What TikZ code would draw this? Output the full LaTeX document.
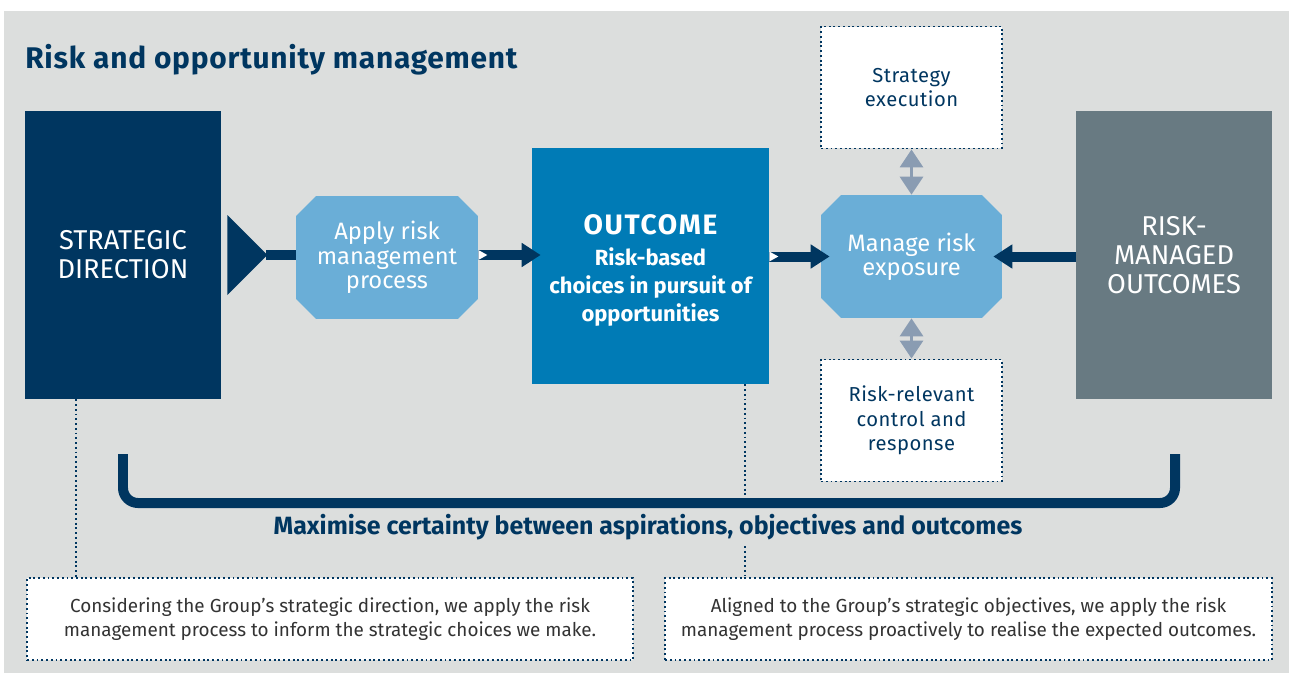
\documentclass[tikz,border=0pt]{standalone}
\usepackage{fontspec}
\setmainfont{Fira Sans}
\newfontfamily\trackmid[LetterSpace=6]{Fira Sans}
\newfontfamily\tracklow[LetterSpace=2.5]{Fira Sans}
\usetikzlibrary{arrows.meta,shapes.misc}
\definecolor{navy}{HTML}{003660}
\definecolor{outblue}{HTML}{007BB6}
\definecolor{stepblue}{HTML}{6AAED7}
\definecolor{slate}{HTML}{687A82}
\definecolor{panel}{HTML}{DCDEDD}
\definecolor{linkgray}{HTML}{8A9CB2}
\definecolor{notetext}{HTML}{333333}
\tikzset{
  bigbox/.style={text=white, align=center, inner sep=0pt, minimum width=3.92cm, minimum height=5.76cm,
    font=\fontsize{15.5}{16.6}\selectfont},
  stepbox/.style={chamfered rectangle, chamfered rectangle xsep=0.2cm, chamfered rectangle ysep=0.2cm,
    fill=stepblue, text=white, align=center, inner sep=0pt, minimum width=3.64cm, minimum height=2.46cm,
    font=\fontsize{13.5}{13.9}\selectfont},
  dotbox/.style={fill=white, draw=navy, dotline, text=navy, align=center, inner sep=0pt,
    minimum width=3.62cm, minimum height=2.44cm, font=\tracklow\fontsize{11.5}{13.8}\selectfont},
  notebox/.style={fill=white, draw=navy, dotline, text=notetext, align=center, inner sep=0pt,
    minimum width=12.12cm, minimum height=1.64cm, font=\fontsize{10.75}{13.6}\selectfont},
  dotline/.style={line width=1.1pt, dash pattern=on 1.1pt off 1.6pt},
  flow/.style={navy, line width=0.2cm, -{Triangle[length=0.38cm,width=0.46cm]}},
  twoway/.style={linkgray, line width=0.06cm,
    {Triangle[length=0.36cm,width=0.46cm]}-{Triangle[length=0.36cm,width=0.46cm]}},
}
\begin{document}
\begin{tikzpicture}[x=0.02cm,y=-0.02cm]
\useasboundingbox (0,0) rectangle (1289,673);
\fill[panel] (4,11) rectangle (1289,673);
\node[anchor=base west, text=navy, inner sep=0pt, font=\tracklow\fontsize{17}{20}\selectfont\bfseries] (title) at (25,68) {Risk and opportunity management};

% main row
\node[bigbox, fill=navy] (strat) at (123,255) {STRATEGIC\\DIRECTION};
\node[stepbox] (apply) at (387,257.5) {Apply risk\\management\\process};
\node[bigbox, fill=outblue, minimum width=4.74cm, minimum height=4.72cm,
  font=\fontsize{12.5}{15.9}\selectfont\bfseries] (outcome) at (650.5,266)
  {\rule{0pt}{16.5pt}{\trackmid\fontsize{16}{17}\selectfont OUTCOME}\\[1.5pt]Risk-based\\choices in pursuit of\\opportunities};
\node[stepbox, minimum width=3.62cm] (manage) at (911.5,256.5) {Manage risk\\exposure};
\node[bigbox, fill=slate] (riskout) at (1174,255) {RISK-\\MANAGED\\OUTCOMES};

% side boxes
\node[dotbox] (exec) at (911.5,87.5) {Strategy\\execution};
\node[dotbox] (control) at (911.5,420.5) {Risk-relevant\\control and\\response};

% arrows
\fill[navy] ([xshift=0.12cm]strat.east) ++(0,-40) -- ++(40,40) -- ++(-40,40) -- cycle;
\draw[navy, line width=0.2cm] ([xshift=0.9cm]strat.east) -- (apply.west |- strat.east);
\draw[flow] (apply.east |- strat.east) -- ([xshift=0.18cm]outcome.west |- strat.east);
\fill[white] (apply.east |- strat.east) ++(0,-5) -- ++(9,5) -- ++(-9,5) -- cycle;
\draw[flow] (outcome.east |- manage.west) -- ([xshift=0.18cm]manage.west);
\fill[white] (outcome.east |- manage.west) ++(0,-5) -- ++(9,5) -- ++(-9,5) -- cycle;
\draw[flow] (riskout.west |- manage.east) -- ([xshift=-0.18cm]manage.east);
\draw[twoway] (exec.south) -- (manage.north);
\draw[twoway] (manage.south) -- (control.north);

% bracket
\draw[navy, line width=0.2cm, rounded corners=0.3cm] (123,454) -- (123,503) -- (1175,503) -- (1175,454);
\node[text=navy, font=\fontsize{14.2}{16}\selectfont\bfseries] (maxim) at (648,527)
  {Maximise certainty between aspirations, objectives and outcomes};

% notes
\node[notebox] (note1) at (330,619) {Considering the Group’s strategic direction, we apply the risk\\management process to inform the strategic choices we make.};
\node[notebox, minimum width=12.14cm] (note2) at (968.5,619) {Aligned to the Group’s strategic objectives, we apply the risk\\management process proactively to realise the expected outcomes.};

\coordinate (d1) at (76,0);
\coordinate (d2) at (745,0);
\draw[navy, dotline] (strat.south -| d1) -- (note1.north -| d1);
\draw[navy, dotline] (outcome.south -| d2) -- (745,498);
\draw[navy, dotline] (maxim.south -| d2) -- (note2.north -| d2);
\end{tikzpicture}
\end{document}
